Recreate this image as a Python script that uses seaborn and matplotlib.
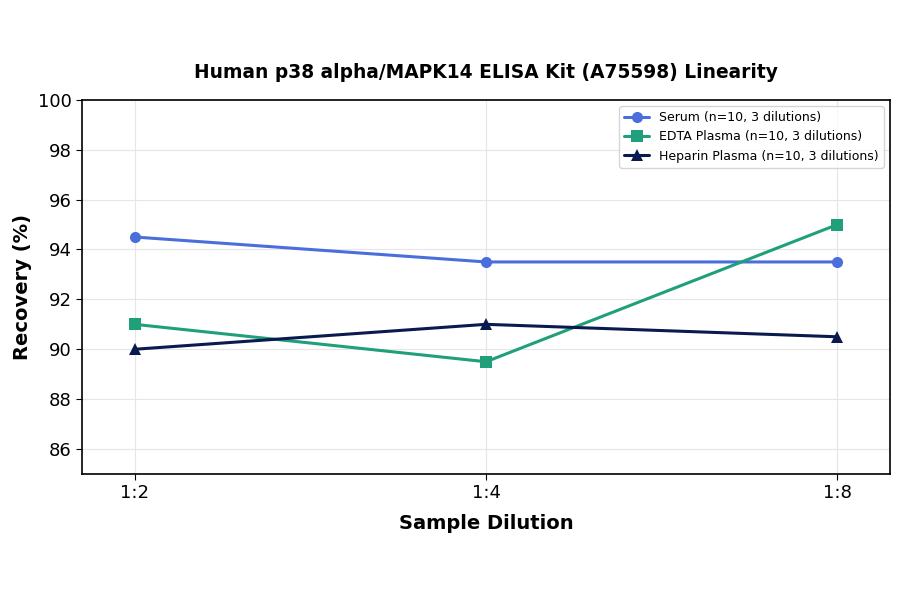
import matplotlib
matplotlib.use("Agg")
import matplotlib.pyplot as plt
import seaborn as sns
import pandas as pd

dilutions = ["1:2", "1:4", "1:8"]
serum = [94.5, 93.5, 93.5]
edta = [91.0, 89.5, 95.0]
heparin = [90.0, 91.0, 90.5]
series_names = ["Serum (n=10, 3 dilutions)", "EDTA Plasma (n=10, 3 dilutions)", "Heparin Plasma (n=10, 3 dilutions)"]

rows = []
for name, vals in zip(series_names, [serum, edta, heparin]):
    for i, (d, v) in enumerate(zip(dilutions, vals)):
        rows.append({"pos": i, "dilution": d, "recovery": v, "series": name})
df = pd.DataFrame(rows)

sns.set_style("white")
plt.rcParams['font.family'] = ['DejaVu Sans']
plt.rcParams['text.color'] = 'black'
plt.rcParams['axes.labelcolor'] = 'black'
plt.rcParams['xtick.color'] = 'black'
plt.rcParams['ytick.color'] = 'black'
fig, ax = plt.subplots(figsize=(9, 5.94), dpi=100)
palette = {series_names[0]: "#4A6FDC", series_names[1]: "#20A07A", series_names[2]: "#0B1A4E"}
markers = {series_names[0]: "o", series_names[1]: "s", series_names[2]: "^"}
sns.lineplot(data=df, x="pos", y="recovery", hue="series", style="series",
             palette=palette, markers=markers, dashes=False, markersize=8,
             linewidth=2.2, markeredgewidth=0, ax=ax)
ax.set_xticks(range(len(dilutions)))
ax.set_xticklabels(dilutions)
ax.set_xlim(-0.15, 2.15)
ax.set_ylim(85, 100)
ax.set_yticks([86, 88, 90, 92, 94, 96, 98, 100])
ax.grid(True, color="#e6e6e6", linewidth=0.8)
ax.tick_params(axis="both", labelsize=13, length=4, color="black", left=True, bottom=True)
for s in ax.spines.values():
    s.set_color("black")
    s.set_linewidth(1.2)
ax.set_xlabel("Sample Dilution", fontsize=14, fontweight="bold", labelpad=8)
ax.set_ylabel("Recovery (%)", fontsize=14, fontweight="bold")
ax.set_title("Human p38 alpha/MAPK14 ELISA Kit (A75598) Linearity", fontsize=13.4, fontweight="bold", pad=16)
leg = ax.legend(title=None, loc="upper right", fontsize=9, frameon=True)
for t in leg.get_texts():
    t.set_color("black")
fig.subplots_adjust(left=0.091, right=0.989, top=0.832, bottom=0.202)
fig.savefig("out.png", dpi=100)
